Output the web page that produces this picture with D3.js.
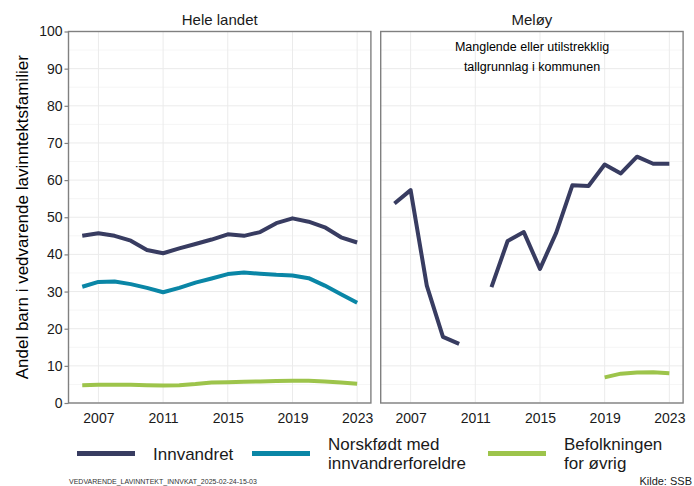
<!DOCTYPE html>
<html>
<head>
<meta charset="utf-8">
<script src="https://cdn.jsdelivr.net/npm/d3@7"></script>
<style>
body { margin: 0; background: #fff; }
text { font-family: "Liberation Sans", Arial, sans-serif; }
</style>
</head>
<body>
<script>
const width = 694;
const height = 486;

const years = d3.range(2006, 2024);
const panels = ['Hele landet', 'Meløy'];
const seriesNames = ['Innvandret', 'Norskfødt med innvandrerforeldre', 'Befolkningen for øvrig'];
const colours = ['#383c61', '#0a86a6', '#9dc44b'];

// Hele landet, 2006-2023
const heleInnvandret = [45.0, 45.7, 45.0, 43.7, 41.2, 40.3, 41.6, 42.8, 44.0, 45.4, 45.0, 46.0, 48.4, 49.7, 48.8, 47.3, 44.6, 43.2];
const heleNorskfodt = [31.3, 32.6, 32.7, 32.0, 31.0, 29.8, 31.0, 32.4, 33.5, 34.7, 35.1, 34.8, 34.5, 34.3, 33.6, 31.6, 29.3, 27.0];
const heleBefolkning = [4.8, 4.9, 4.9, 4.9, 4.8, 4.7, 4.8, 5.1, 5.5, 5.6, 5.7, 5.8, 5.9, 6.0, 6.0, 5.8, 5.5, 5.2];

// Meløy, 2006-2023 (null = missing)
const meloyInnvandret = [53.7, 57.3, 31.6, 17.8, 15.9, null, 31.2, 43.6, 46.0, 36.1, 45.8, 58.6, 58.4, 64.2, 61.8, 66.3, 64.4, 64.4];
const meloyNorskfodt = years.map(() => null);
const meloyBefolkning = [null, null, null, null, null, null, null, null, null, null, null, null, null, 6.9, 7.9, 8.2, 8.3, 8.0];

const panelData = [
	[heleInnvandret, heleNorskfodt, heleBefolkning],
	[meloyInnvandret, meloyNorskfodt, meloyBefolkning]
];

const yTicks = [0, 10, 20, 30, 40, 50, 60, 70, 80, 90, 100];
const yMinor = [5, 15, 25, 35, 45, 55, 65, 75, 85, 95];
const xTicks = [2007, 2011, 2015, 2019, 2023];

const panelLeft = [68.5, 380.7]; //left edge of each panel
const panelWidth = 302.4;
const panelTop = 31.5;
const panelBottom = 403;

const svg = d3.select('body').append('svg')
	.attr('width', width)
	.attr('height', height);

const yScale = d3.scaleLinear()
	.domain([0, 100])
	.range([panelBottom, panelTop]);

const expand = (2023 - 2006) * 0.05;

panels.forEach((name, p) => {
	const x0 = panelLeft[p];
	const xScale = d3.scaleLinear()
		.domain([2006 - expand, 2023 + expand])
		.range([x0, x0 + panelWidth]);

	const g = svg.append('g');

	//Grid lines
	g.selectAll('.minor').data(yMinor).enter().append('line')
		.attr('x1', x0).attr('x2', x0 + panelWidth)
		.attr('y1', d => yScale(d)).attr('y2', d => yScale(d))
		.attr('stroke', '#f3f3f3').attr('stroke-width', 0.8);
	g.selectAll('.major').data(yTicks).enter().append('line')
		.attr('x1', x0).attr('x2', x0 + panelWidth)
		.attr('y1', d => yScale(d)).attr('y2', d => yScale(d))
		.attr('stroke', '#ebebeb').attr('stroke-width', 1);
	g.selectAll('.vmajor').data(xTicks).enter().append('line')
		.attr('x1', d => xScale(d)).attr('x2', d => xScale(d))
		.attr('y1', panelTop).attr('y2', panelBottom)
		.attr('stroke', '#ebebeb').attr('stroke-width', 1);

	//Lines
	const line = d3.line()
		.defined(d => d.v !== null)
		.x(d => xScale(d.year))
		.y(d => yScale(d.v));

	panelData[p].forEach((values, s) => {
		const pts = years.map((year, i) => ({ year: year, v: values[i] }));
		g.append('path')
			.datum(pts)
			.attr('d', line)
			.attr('fill', 'none')
			.attr('stroke', colours[s])
			.attr('stroke-width', 4)
			.attr('stroke-linejoin', 'round');
	});

	//Panel border
	g.append('rect')
		.attr('x', x0).attr('y', panelTop)
		.attr('width', panelWidth).attr('height', panelBottom - panelTop)
		.attr('fill', 'none').attr('stroke', '#808080').attr('stroke-width', 1.4);

	//Strip title
	g.append('text')
		.attr('x', x0 + panelWidth / 2).attr('y', 25)
		.attr('text-anchor', 'middle')
		.attr('font-size', 15).attr('fill', '#1a1a1a')
		.text(name);

	//X axis labels
	const xAxis = d3.axisBottom(xScale)
		.tickValues(xTicks)
		.tickFormat(d3.format('d'))
		.tickSize(0)
		.tickPadding(10);
	const ax = g.append('g')
		.attr('transform', 'translate(0,' + panelBottom + ')')
		.call(xAxis);
	ax.select('.domain').remove();
	ax.selectAll('text')
		.attr('font-size', 14)
		.attr('fill', '#1a1a1a')
		.style('font-family', '"Liberation Sans", Arial, sans-serif');

	if (p === 0) {
		const yAxis = d3.axisLeft(yScale)
			.tickValues(yTicks)
			.tickSize(4)
			.tickPadding(2);
		const ay = g.append('g')
			.attr('transform', 'translate(' + x0 + ',0)')
			.call(yAxis);
		ay.select('.domain').remove();
		ay.selectAll('line').attr('stroke', '#808080').attr('stroke-width', 1.2);
		ay.selectAll('text')
			.attr('font-size', 14)
			.attr('fill', '#1a1a1a')
			.style('font-family', '"Liberation Sans", Arial, sans-serif');
	}
});

//Annotation in Meløy
const note = svg.append('text')
	.attr('text-anchor', 'middle')
	.attr('font-size', 12.5)
	.attr('fill', '#000');
note.append('tspan').attr('x', 532).attr('y', 51).text('Manglende eller utilstrekklig');
note.append('tspan').attr('x', 532).attr('y', 71).text('tallgrunnlag i kommunen');

//Y-axis title
svg.append('text')
	.attr('transform', 'translate(28,' + ((panelTop + panelBottom) / 2) + ') rotate(-90)')
	.attr('text-anchor', 'middle')
	.attr('font-size', 17)
	.attr('fill', '#000')
	.text('Andel barn i vedvarende lavinntektsfamilier');

//Legend
const legendKeyX = [77, 252, 488];
const legendLabels = [['Innvandret'], ['Norskfødt med', 'innvandrerforeldre'], ['Befolkningen', 'for øvrig']];
const legendY = 453.5;

seriesNames.forEach((name, i) => {
	svg.append('line')
		.attr('x1', legendKeyX[i]).attr('x2', legendKeyX[i] + 58)
		.attr('y1', legendY).attr('y2', legendY)
		.attr('stroke', colours[i]).attr('stroke-width', 5);
	const t = svg.append('text')
		.attr('font-size', 17)
		.attr('fill', '#1a1a1a');
	const lines = legendLabels[i];
	lines.forEach((l, j) => {
		t.append('tspan')
			.attr('x', legendKeyX[i] + 76)
			.attr('y', legendY + 6 + (j - (lines.length - 1) / 2) * 19)
			.text(l);
	});
});

//Footer
svg.append('text')
	.attr('x', 69).attr('y', 484)
	.attr('font-size', 7)
	.attr('fill', '#333')
	.text('VEDVARENDE_LAVINNTEKT_INNVKAT_2025-02-24-15-03');

svg.append('text')
	.attr('x', 692).attr('y', 485)
	.attr('text-anchor', 'end')
	.attr('font-size', 11)
	.attr('fill', '#1a1a1a')
	.text('Kilde: SSB');
</script>
</body>
</html>
